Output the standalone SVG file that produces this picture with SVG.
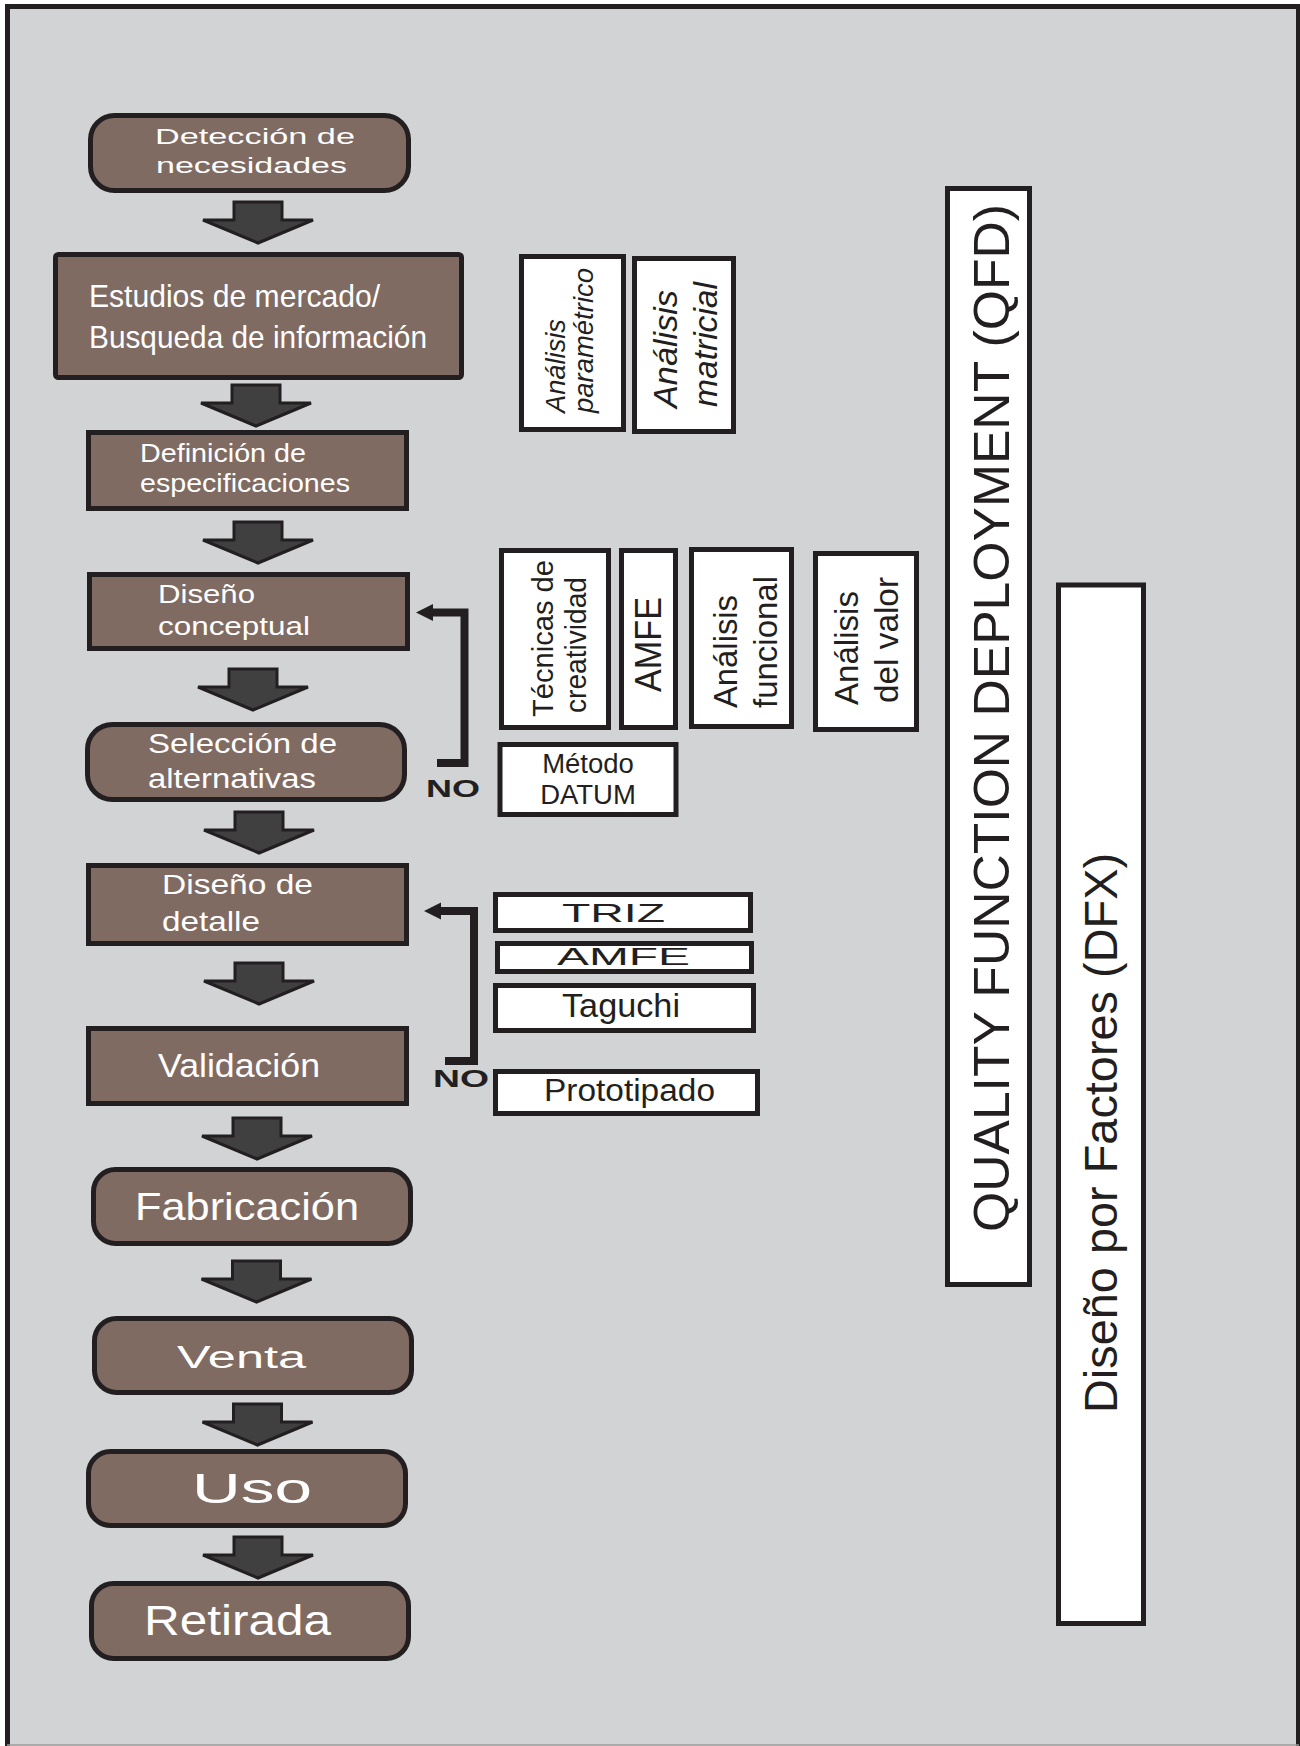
<svg xmlns="http://www.w3.org/2000/svg" xmlns:xlink="http://www.w3.org/1999/xlink" width="1300" height="1746" viewBox="0 0 1300 1746">
<style>
.node{fill:#806b63;stroke:#231f20;stroke-width:5}
.box{fill:#ffffff;stroke:#231f20;stroke-width:5}
.wt{fill:#ffffff;font-family:"Liberation Sans",Arial,Helvetica,sans-serif}
.bt{fill:#231f20;font-family:"Liberation Sans",Arial,Helvetica,sans-serif}
.it{font-style:italic}
.no{fill:#231f20;font-family:"Liberation Sans",Arial,Helvetica,sans-serif;font-weight:bold;font-size:23px}
.blk{fill:#404040;stroke:#231f20;stroke-width:3;stroke-linejoin:miter}
.fb{fill:none;stroke:#231f20;stroke-width:8;stroke-linejoin:miter}
</style>
<defs>
<path id="barrow" d="M -24 0 H 24 V 18 H 55 L 0 41 L -55 18 H -24 Z"/>
</defs>
<rect x="0" y="0" width="1300" height="1746" fill="#ffffff"/>
<rect x="7.5" y="6.5" width="1291" height="1739" fill="#d1d3d4"/>
<path d="M7.5 1746 V6.5 H1298.5 V1746" fill="none" stroke="#231f20" stroke-width="5"/>
<line x1="7" y1="1745" x2="1299" y2="1745" stroke="#9a9a9a" stroke-width="1.5"/>

<g id="connectors">
<use xlink:href="#barrow" class="blk" x="258" y="202"/>
<use xlink:href="#barrow" class="blk" x="256" y="385"/>
<use xlink:href="#barrow" class="blk" x="258" y="522"/>
<use xlink:href="#barrow" class="blk" x="253" y="669"/>
<use xlink:href="#barrow" class="blk" x="259" y="812"/>
<use xlink:href="#barrow" class="blk" x="259" y="963"/>
<use xlink:href="#barrow" class="blk" x="257" y="1118"/>
<use xlink:href="#barrow" class="blk" x="256.5" y="1261"/>
<use xlink:href="#barrow" class="blk" x="257.5" y="1404"/>
<use xlink:href="#barrow" class="blk" x="258" y="1537"/>
<path class="fb" d="M437 763 H464.5 V612.5 H430"/>
<path d="M416 612.5 L433 604 L433 621 Z" fill="#231f20"/>
<path class="fb" d="M445 1061 H474 V911 H438"/>
<path d="M424 911 L441 902.5 L441 919.5 Z" fill="#231f20"/>
<text class="no" x="426" y="797" textLength="54" lengthAdjust="spacingAndGlyphs">NO</text>
<text class="no" x="433" y="1087" textLength="56" lengthAdjust="spacingAndGlyphs">NO</text>
</g>

<g id="n-deteccion">
<rect class="node" x="90.5" y="115.5" width="318" height="75" rx="24"/>
<text class="wt" font-size="22" x="155" y="144" textLength="200" lengthAdjust="spacingAndGlyphs">Detección de</text>
<text class="wt" font-size="22" x="156" y="173" textLength="191" lengthAdjust="spacingAndGlyphs">necesidades</text>
</g>
<g id="n-estudios">
<rect class="node" x="55.5" y="254.5" width="406" height="123" rx="3"/>
<text class="wt" font-size="32" x="89" y="307" textLength="291" lengthAdjust="spacingAndGlyphs">Estudios de mercado/</text>
<text class="wt" font-size="32" x="89" y="348" textLength="338" lengthAdjust="spacingAndGlyphs">Busqueda de información</text>
</g>
<g id="n-definicion">
<rect class="node" x="88.5" y="432.5" width="318" height="76"/>
<text class="wt" font-size="25" x="140" y="462" textLength="166" lengthAdjust="spacingAndGlyphs">Definición de</text>
<text class="wt" font-size="25" x="140" y="492" textLength="210" lengthAdjust="spacingAndGlyphs">especificaciones</text>
</g>
<g id="n-conceptual">
<rect class="node" x="89.5" y="574.5" width="318" height="74"/>
<text class="wt" font-size="25" x="158" y="603" textLength="97" lengthAdjust="spacingAndGlyphs">Diseño</text>
<text class="wt" font-size="25" x="158" y="635" textLength="152" lengthAdjust="spacingAndGlyphs">conceptual</text>
</g>
<g id="n-seleccion">
<rect class="node" x="87.5" y="724.5" width="317" height="75" rx="25"/>
<text class="wt" font-size="27" x="148" y="753" textLength="189" lengthAdjust="spacingAndGlyphs">Selección de</text>
<text class="wt" font-size="27" x="148" y="788" textLength="168" lengthAdjust="spacingAndGlyphs">alternativas</text>
</g>
<g id="n-detalle">
<rect class="node" x="88.5" y="865.5" width="318" height="78"/>
<text class="wt" font-size="28" x="162" y="894" textLength="151" lengthAdjust="spacingAndGlyphs">Diseño de</text>
<text class="wt" font-size="28" x="162" y="931" textLength="98" lengthAdjust="spacingAndGlyphs">detalle</text>
</g>
<g id="n-validacion">
<rect class="node" x="88.5" y="1028.5" width="318" height="75"/>
<text class="wt" font-size="34" x="158" y="1077" textLength="162" lengthAdjust="spacingAndGlyphs">Validación</text>
</g>
<g id="n-fabricacion">
<rect class="node" x="93.5" y="1169.5" width="317" height="74" rx="22"/>
<text class="wt" font-size="39" x="135" y="1220" textLength="224" lengthAdjust="spacingAndGlyphs">Fabricación</text>
</g>
<g id="n-venta">
<rect class="node" x="94.5" y="1318.5" width="317" height="74" rx="22"/>
<text class="wt" font-size="31" x="177" y="1368" textLength="129" lengthAdjust="spacingAndGlyphs">Venta</text>
</g>
<g id="n-uso">
<rect class="node" x="88.5" y="1451.5" width="317" height="74" rx="22"/>
<text class="wt" font-size="42" x="192" y="1503" textLength="120" lengthAdjust="spacingAndGlyphs">Uso</text>
</g>
<g id="n-retirada">
<rect class="node" x="91.5" y="1583.5" width="317" height="75" rx="22"/>
<text class="wt" font-size="43" x="144" y="1635" textLength="187" lengthAdjust="spacingAndGlyphs">Retirada</text>
</g>

<g id="t-parametrico">
<rect class="box" x="521.5" y="256.5" width="102" height="173"/>
<text class="bt it" font-size="27" transform="translate(565,413) rotate(-90)" textLength="94" lengthAdjust="spacingAndGlyphs">Análisis</text>
<text class="bt it" font-size="27" transform="translate(593,413) rotate(-90)" textLength="145" lengthAdjust="spacingAndGlyphs">paramétrico</text>
</g>
<g id="t-matricial">
<rect class="box" x="634.5" y="258.5" width="99" height="173"/>
<text class="bt it" font-size="34" transform="translate(677,408) rotate(-90)" textLength="118" lengthAdjust="spacingAndGlyphs">Análisis</text>
<text class="bt it" font-size="34" transform="translate(717,407) rotate(-90)" textLength="125" lengthAdjust="spacingAndGlyphs">matricial</text>
</g>
<g id="t-creatividad">
<rect class="box" x="501.5" y="550.5" width="107" height="177"/>
<text class="bt" font-size="29" transform="translate(553,717) rotate(-90)" textLength="157" lengthAdjust="spacingAndGlyphs">Técnicas de</text>
<text class="bt" font-size="29" transform="translate(586,713) rotate(-90)" textLength="136" lengthAdjust="spacingAndGlyphs">creatividad</text>
</g>
<g id="t-amfe1">
<rect class="box" x="621.5" y="550.5" width="54" height="177"/>
<text class="bt" font-size="36" transform="translate(661,692) rotate(-90)" textLength="95" lengthAdjust="spacingAndGlyphs">AMFE</text>
</g>
<g id="t-funcional">
<rect class="box" x="691.5" y="549.5" width="100" height="177"/>
<text class="bt" font-size="33" transform="translate(737,708) rotate(-90)" textLength="113" lengthAdjust="spacingAndGlyphs">Análisis</text>
<text class="bt" font-size="33" transform="translate(777,708) rotate(-90)" textLength="132" lengthAdjust="spacingAndGlyphs">funcional</text>
</g>
<g id="t-valor">
<rect class="box" x="815.5" y="553.5" width="101" height="176"/>
<text class="bt" font-size="33" transform="translate(858,705) rotate(-90)" textLength="114" lengthAdjust="spacingAndGlyphs">Análisis</text>
<text class="bt" font-size="33" transform="translate(898,703) rotate(-90)" textLength="126" lengthAdjust="spacingAndGlyphs">del valor</text>
</g>
<g id="t-datum">
<rect class="box" x="500" y="744.5" width="176" height="70"/>
<text class="bt" font-size="27.5" x="588" y="773" text-anchor="middle">Método</text>
<text class="bt" font-size="27.5" x="588" y="804" text-anchor="middle">DATUM</text>
</g>
<g id="t-triz">
<rect class="box" x="495.5" y="894.5" width="255" height="36"/>
<text class="bt" font-size="26" x="562" y="922" textLength="103" lengthAdjust="spacingAndGlyphs">TRIZ</text>
</g>
<g id="t-amfe2">
<rect class="box" x="497.5" y="943.5" width="254" height="28"/>
<text class="bt" font-size="23.5" x="557" y="965" textLength="133" lengthAdjust="spacingAndGlyphs">AMFE</text>
</g>
<g id="t-taguchi">
<rect class="box" x="495.5" y="985.5" width="258" height="45"/>
<text class="bt" font-size="32.5" x="562" y="1017" textLength="118" lengthAdjust="spacingAndGlyphs">Taguchi</text>
</g>
<g id="t-prototipado">
<rect class="box" x="495.5" y="1071.5" width="262" height="42"/>
<text class="bt" font-size="31" x="544" y="1101" textLength="171" lengthAdjust="spacingAndGlyphs">Prototipado</text>
</g>
<g id="t-qfd">
<rect class="box" x="947.5" y="188.5" width="82" height="1096"/>
<text class="bt" font-size="50" transform="translate(1009,1232) rotate(-90)" textLength="1028" lengthAdjust="spacingAndGlyphs">QUALITY FUNCTION DEPLOYMENT (QFD)</text>
</g>
<g id="t-dfx">
<rect class="box" x="1058.5" y="585" width="85" height="1038.5"/>
<text class="bt" font-size="47" transform="translate(1117,1413) rotate(-90)" textLength="560" lengthAdjust="spacingAndGlyphs">Diseño por Factores (DFX)</text>
</g>
</svg>
